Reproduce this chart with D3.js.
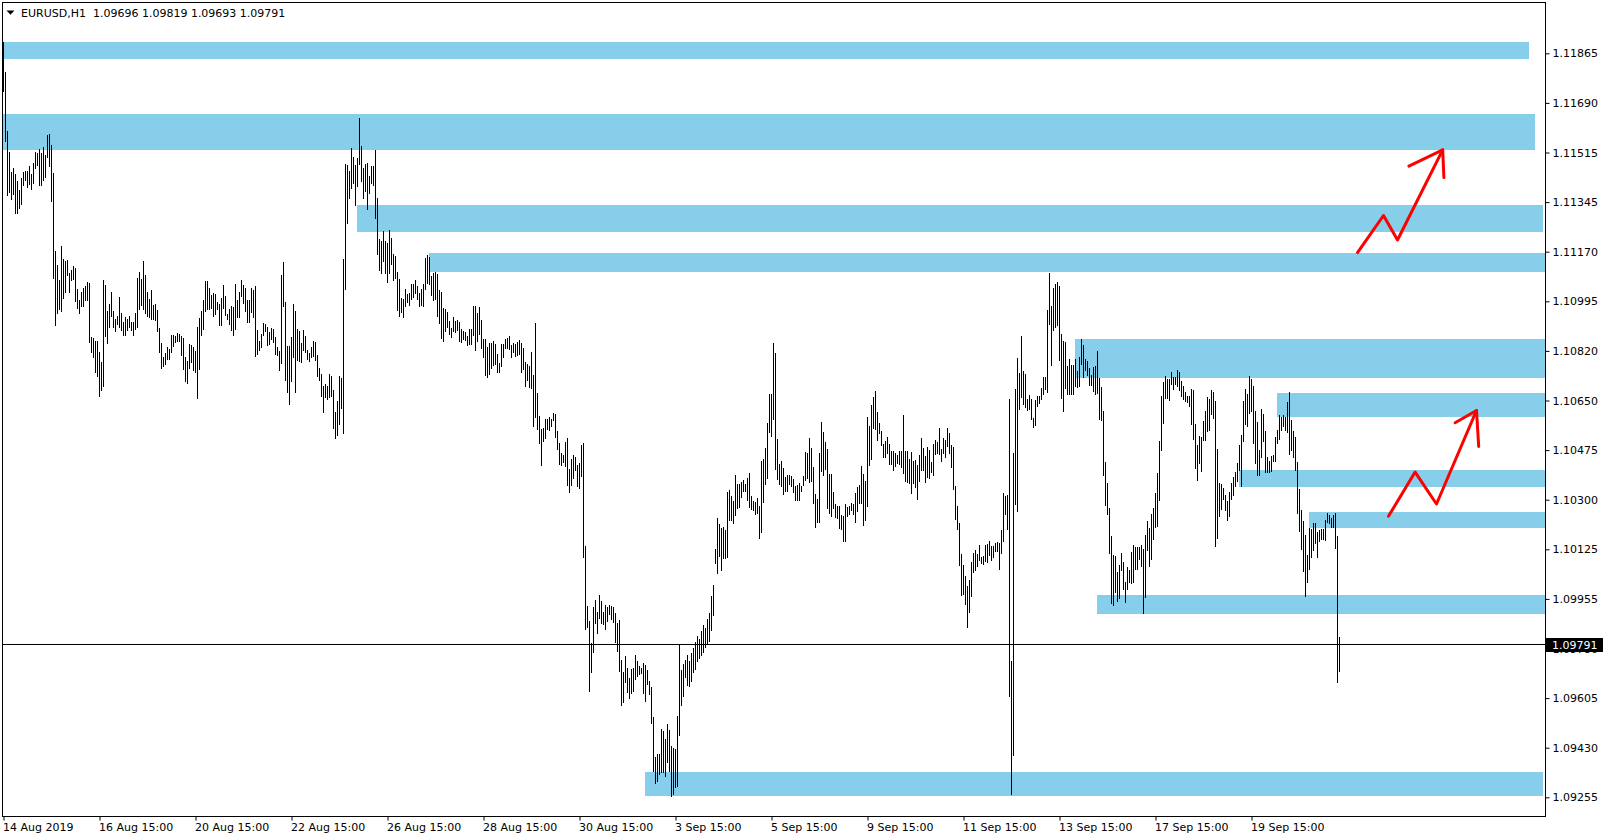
<!DOCTYPE html>
<html><head><meta charset="utf-8">
<script src="https://cdn.jsdelivr.net/npm/d3@7/dist/d3.min.js"></script>
<style>html,body{margin:0;padding:0;background:#fff;overflow:hidden}</style>
</head><body>
<script>
// ---------------- DATA ----------------
const symbolTitle = "EURUSD,H1  1.09696 1.09819 1.09693 1.09791";

// H1 bar highs (bar 0 = 14 Aug 2019 15:00)
const highs = [
1.11905,1.11800,1.11592,1.11519,1.11449,1.11463,1.11442,1.11418,1.11385,1.11428,
1.11449,1.11453,1.11452,1.11470,1.11442,1.11480,1.11519,1.11515,1.11529,1.11515,
1.11536,1.11509,1.11578,1.11582,1.11543,1.11444,1.11171,1.11122,1.11069,1.11189,
1.11143,1.11136,1.11140,1.11095,1.11105,1.11119,1.11112,1.11039,1.10999,1.11027,
1.11041,1.11048,1.11062,1.11059,1.10871,1.10866,1.10857,1.10857,1.10817,1.10782,
1.11069,1.11052,1.10962,1.10985,1.11027,1.10962,1.10934,1.10944,1.11011,1.10955,
1.10922,1.10941,1.10934,1.10943,1.10922,1.10922,1.10955,1.11075,1.11098,1.11072,
1.11137,1.11087,1.11027,1.11004,1.11034,1.10981,1.10985,1.10964,1.10901,1.10850,
1.10798,1.10812,1.10835,1.10826,1.10878,1.10878,1.10873,1.10885,1.10879,1.10873,
1.10866,1.10800,1.10786,1.10846,1.10843,1.10835,1.10821,1.10906,1.10938,1.10962,
1.10999,1.11067,1.11067,1.11043,1.11018,1.11023,1.11022,1.10993,1.10985,1.11005,
1.11052,1.11012,1.10952,1.10969,1.10978,1.10975,1.11055,1.10999,1.11027,1.11069,
1.11052,1.11041,1.10999,1.10999,1.11041,1.11034,1.11048,1.10894,1.10855,1.10880,
1.10918,1.10915,1.10904,1.10887,1.10901,1.10897,1.10869,1.10834,1.10820,1.11087,
1.11132,1.10992,1.10838,1.10838,1.10869,1.10985,1.10960,1.10897,1.10890,1.10848,
1.10894,1.10873,1.10824,1.10813,1.10834,1.10855,1.10852,1.10806,1.10760,1.10739,
1.10697,1.10704,1.10697,1.10739,1.10732,1.10683,1.10606,1.10645,1.10732,1.10725,
1.11143,1.11476,1.11473,1.11452,1.11533,1.11501,1.11473,1.11498,1.11638,1.11540,
1.11462,1.11476,1.11480,1.11434,1.11469,1.11469,1.11526,1.11357,1.11213,1.11206,
1.11241,1.11206,1.11199,1.11245,1.11217,1.11161,1.11154,1.11097,1.11073,1.11006,
1.11003,1.11038,1.11020,1.11024,1.11055,1.11055,1.11069,1.11048,1.11024,1.11038,
1.11055,1.11147,1.11157,1.11150,1.11083,1.11094,1.11097,1.11090,1.11034,1.11027,
1.10971,1.10968,1.10957,1.10925,1.10901,1.10939,1.10925,1.10929,1.10922,1.10898,
1.10891,1.10887,1.10873,1.10898,1.10898,1.10979,1.10979,1.10954,1.10975,1.10930,
1.10863,1.10863,1.10835,1.10849,1.10849,1.10855,1.10845,1.10810,1.10778,1.10845,
1.10845,1.10863,1.10866,1.10873,1.10842,1.10849,1.10845,1.10852,1.10859,1.10849,
1.10831,1.10782,1.10775,1.10768,1.10817,1.10736,1.10919,1.10673,1.10592,1.10547,
1.10550,1.10582,1.10582,1.10589,1.10582,1.10603,1.10600,1.10540,1.10498,1.10462,
1.10455,1.10501,1.10515,1.10406,1.10442,1.10455,1.10448,1.10420,1.10427,1.10490,
1.10498,1.10136,1.09925,1.09873,1.09795,1.09922,1.09946,1.09904,1.09964,1.09943,
1.09904,1.09929,1.09922,1.09929,1.09925,1.09922,1.09901,1.09866,1.09876,1.09736,
1.09694,1.09750,1.09708,1.09673,1.09704,1.09708,1.09753,1.09732,1.09715,1.09708,
1.09725,1.09718,1.09701,1.09662,1.09641,1.09536,1.09395,1.09406,1.09406,1.09494,
1.09487,1.09459,1.09511,1.09490,1.09434,1.09427,1.09424,1.09540,1.09789,1.09701,
1.09722,1.09736,1.09753,1.09732,1.09760,1.09780,1.09800,1.09820,1.09810,1.09840,
1.09860,1.09850,1.09880,1.09900,1.09960,1.10000,1.10125,1.10234,1.10213,1.10199,
1.10203,1.10192,1.10325,1.10332,1.10311,1.10294,1.10385,1.10353,1.10353,1.10360,
1.10367,1.10353,1.10375,1.10392,1.10311,1.10294,1.10290,1.10304,1.10276,1.10434,
1.10441,1.10480,1.10568,1.10669,1.10669,1.10848,1.10813,1.10511,1.10424,1.10434,
1.10410,1.10378,1.10385,1.10385,1.10382,1.10371,1.10346,1.10350,1.10357,1.10346,
1.10382,1.10466,1.10462,1.10515,1.10480,1.10413,1.10318,1.10301,1.10462,1.10571,
1.10536,1.10501,1.10476,1.10389,1.10389,1.10325,1.10283,1.10276,1.10276,1.10245,
1.10241,1.10283,1.10273,1.10276,1.10287,1.10283,1.10322,1.10343,1.10350,1.10417,
1.10389,1.10364,1.10589,1.10557,1.10631,1.10659,1.10680,1.10606,1.10568,1.10539,
1.10494,1.10504,1.10518,1.10494,1.10469,1.10469,1.10462,1.10455,1.10469,1.10469,
1.10596,1.10469,1.10469,1.10441,1.10466,1.10434,1.10438,1.10420,1.10455,1.10517,
1.10480,1.10451,1.10484,1.10473,1.10433,1.10494,1.10510,1.10502,1.10549,1.10476,
1.10517,1.10510,1.10552,1.10532,1.10490,1.10484,1.10346,1.10277,1.10219,1.10110,
1.10069,1.10030,1.09995,1.10017,1.10082,1.10111,1.10122,1.10109,1.10139,1.10098,
1.10103,1.10139,1.10144,1.10153,1.10135,1.10137,1.10146,1.10149,1.10146,1.10192,
1.10322,1.10312,1.10315,1.10652,1.09733,1.10462,1.10689,1.10795,1.10743,1.10872,
1.10751,1.10740,1.10652,1.10665,1.10652,1.10585,1.10648,1.10662,1.10662,1.10690,
1.10729,1.10729,1.10965,1.11096,1.10978,1.11042,1.11057,1.11063,1.11049,1.10880,
1.10855,1.10852,1.10768,1.10793,1.10771,1.10771,1.10793,1.10752,1.10798,1.10862,
1.10841,1.10793,1.10786,1.10760,1.10737,1.10764,1.10768,1.10821,1.10725,1.10693,
1.10610,1.10430,1.10357,1.10270,1.10173,1.10104,1.10103,1.10045,1.10070,1.10111,
1.10080,1.10010,1.10064,1.10052,1.10114,1.10139,1.10134,1.10133,1.10132,1.10139,
1.10126,1.10175,1.10224,1.10199,1.10250,1.10270,1.10322,1.10392,1.10504,1.10662,
1.10711,1.10733,1.10722,1.10722,1.10747,1.10729,1.10729,1.10754,1.10747,1.10715,
1.10697,1.10676,1.10662,1.10662,1.10687,1.10683,1.10564,1.10490,1.10522,1.10518,
1.10575,1.10610,1.10659,1.10652,1.10683,1.10676,1.10645,1.10476,1.10357,1.10353,
1.10339,1.10315,1.10294,1.10325,1.10357,1.10378,1.10396,1.10427,1.10490,1.10525,
1.10645,1.10687,1.10669,1.10733,1.10722,1.10697,1.10610,1.10571,1.10473,1.10617,
1.10599,1.10539,1.10448,1.10434,1.10452,1.10455,1.10518,1.10543,1.10596,1.10589,
1.10596,1.10589,1.10641,1.10676,1.10578,1.10539,1.10518,1.10431,1.10336,1.10262,
1.10224,1.10174,1.10104,1.10199,1.10196,1.10217,1.10217,1.10185,1.10192,1.10196,
1.10196,1.10227,1.10252,1.10245,1.10234,1.10245,1.10252,1.10171,1.09819
];

// H1 bar lows
const lows = [
1.11729,1.11555,1.11366,1.11374,1.11351,1.11369,1.11302,1.11302,1.11319,1.11334,
1.11399,1.11418,1.11391,1.11403,1.11387,1.11408,1.11460,1.11468,1.11401,1.11401,
1.11417,1.11429,1.11497,1.11467,1.11344,1.11072,1.10909,1.10951,1.10964,1.10958,
1.11004,1.11025,1.11085,1.11023,1.11067,1.11069,1.10993,1.10967,1.10951,1.10976,
1.10976,1.10997,1.10997,1.10847,1.10812,1.10795,1.10745,1.10730,1.10660,1.10681,
1.10693,1.10871,1.10844,1.10900,1.10941,1.10903,1.10887,1.10912,1.10902,1.10890,
1.10875,1.10875,1.10892,1.10902,1.10890,1.10875,1.10896,1.10900,1.10964,1.10978,
1.10964,1.10950,1.10941,1.10937,1.10928,1.10929,1.10927,1.10888,1.10812,1.10758,
1.10763,1.10773,1.10789,1.10789,1.10812,1.10833,1.10850,1.10852,1.10851,1.10803,
1.10755,1.10713,1.10706,1.10758,1.10777,1.10751,1.10742,1.10653,1.10755,1.10874,
1.10893,1.10958,1.10964,1.10964,1.10969,1.10940,1.10947,1.10964,1.10910,1.10910,
1.10967,1.10944,1.10931,1.10913,1.10890,1.10873,1.10894,1.10936,1.10936,1.11010,
1.10985,1.10957,1.10918,1.10918,1.10953,1.10936,1.10799,1.10806,1.10820,1.10831,
1.10873,1.10887,1.10838,1.10841,1.10859,1.10848,1.10806,1.10803,1.10750,1.10774,
1.10975,1.10715,1.10673,1.10631,1.10711,1.10796,1.10673,1.10785,1.10781,1.10778,
1.10820,1.10813,1.10788,1.10781,1.10796,1.10799,1.10785,1.10729,1.10715,1.10659,
1.10602,1.10655,1.10648,1.10655,1.10659,1.10546,1.10511,1.10522,1.10560,1.10617,
1.10529,1.11034,1.11266,1.11354,1.11389,1.11406,1.11329,1.11396,1.11473,1.11413,
1.11354,1.11378,1.11315,1.11371,1.11406,1.11399,1.11283,1.11157,1.11101,1.11090,
1.11132,1.11090,1.11059,1.11090,1.11122,1.11066,1.11073,1.10960,1.10939,1.10953,
1.10936,1.10975,1.10989,1.10978,1.10999,1.11006,1.11020,1.10999,1.10975,1.10978,
1.10975,1.11034,1.11055,1.11052,1.11013,1.10996,1.10999,1.10939,1.10915,1.10862,
1.10852,1.10887,1.10901,1.10876,1.10866,1.10887,1.10883,1.10890,1.10852,1.10849,
1.10859,1.10855,1.10838,1.10842,1.10842,1.10873,1.10820,1.10852,1.10877,1.10828,
1.10796,1.10733,1.10726,1.10736,1.10757,1.10768,1.10771,1.10743,1.10743,1.10764,
1.10796,1.10828,1.10828,1.10824,1.10796,1.10813,1.10799,1.10803,1.10806,1.10743,
1.10754,1.10694,1.10715,1.10691,1.10687,1.10554,1.10585,1.10543,1.10494,1.10417,
1.10501,1.10512,1.10543,1.10540,1.10554,1.10575,1.10515,1.10473,1.10420,1.10417,
1.10427,1.10413,1.10346,1.10322,1.10346,1.10371,1.10400,1.10343,1.10336,1.10378,
1.10094,1.09841,1.09848,1.09624,1.09690,1.09761,1.09862,1.09827,1.09880,1.09862,
1.09859,1.09841,1.09869,1.09894,1.09876,1.09866,1.09795,1.09764,1.09694,1.09574,
1.09585,1.09655,1.09620,1.09599,1.09617,1.09624,1.09666,1.09676,1.09683,1.09687,
1.09617,1.09588,1.09648,1.09613,1.09511,1.09343,1.09301,1.09308,1.09332,1.09339,
1.09339,1.09325,1.09374,1.09343,1.09255,1.09262,1.09287,1.09290,1.09470,1.09574,
1.09606,1.09673,1.09645,1.09641,1.09660,1.09690,1.09700,1.09730,1.09740,1.09750,
1.09760,1.09780,1.09790,1.09800,1.09840,1.09890,1.10075,1.10040,1.10097,1.10050,
1.10090,1.10090,1.10094,1.10224,1.10224,1.10213,1.10241,1.10266,1.10269,1.10304,
1.10325,1.10325,1.10294,1.10269,1.10262,1.10259,1.10245,1.10248,1.10160,1.10181,
1.10287,1.10350,1.10371,1.10532,1.10518,1.10578,1.10403,1.10367,1.10350,1.10343,
1.10315,1.10325,1.10325,1.10350,1.10343,1.10322,1.10294,1.10294,1.10294,1.10325,
1.10346,1.10364,1.10371,1.10357,1.10360,1.10283,1.10199,1.10217,1.10217,1.10396,
1.10382,1.10403,1.10266,1.10248,1.10238,1.10266,1.10234,1.10231,1.10196,1.10192,
1.10150,1.10150,1.10238,1.10245,1.10259,1.10245,1.10217,1.10255,1.10283,1.10285,
1.10206,1.10224,1.10273,1.10417,1.10438,1.10547,1.10543,1.10504,1.10529,1.10487,
1.10445,1.10445,1.10459,1.10420,1.10420,1.10399,1.10413,1.10424,1.10420,1.10410,
1.10389,1.10360,1.10357,1.10353,1.10318,1.10353,1.10339,1.10297,1.10362,1.10400,
1.10400,1.10358,1.10376,1.10372,1.10394,1.10383,1.10456,1.10459,1.10456,1.10430,
1.10461,1.10446,1.10485,1.10459,1.10410,1.10334,1.10228,1.10192,1.10066,1.09961,
1.09965,1.09930,1.09849,1.09902,1.09958,1.10041,1.10048,1.10063,1.10085,1.10075,
1.10070,1.10079,1.10076,1.10101,1.10085,1.10093,1.10115,1.10115,1.10053,1.10109,
1.10151,1.10245,1.10192,1.09607,1.09264,1.09399,1.10282,1.10256,1.10613,1.10656,
1.10631,1.10620,1.10610,1.10612,1.10577,1.10551,1.10558,1.10624,1.10636,1.10649,
1.10665,1.10685,1.10673,1.10913,1.10769,1.10891,1.10901,1.10909,1.10786,1.10653,
1.10608,1.10687,1.10668,1.10666,1.10667,1.10667,1.10693,1.10690,1.10693,1.10771,
1.10727,1.10749,1.10733,1.10698,1.10699,1.10676,1.10668,1.10671,1.10578,1.10575,
1.10382,1.10277,1.10245,1.10109,1.09933,1.09926,1.09971,1.09941,1.09952,1.10049,
1.09983,1.09936,1.09981,1.10007,1.10005,1.10007,1.10054,1.10054,1.10088,1.10062,
1.09898,1.09955,1.10118,1.10064,1.10086,1.10158,1.10199,1.10203,1.10294,1.10469,
1.10564,1.10652,1.10652,1.10645,1.10701,1.10683,1.10701,1.10694,1.10680,1.10659,
1.10648,1.10641,1.10638,1.10624,1.10561,1.10508,1.10406,1.10364,1.10424,1.10396,
1.10504,1.10504,1.10536,1.10539,1.10596,1.10582,1.10132,1.10160,1.10238,1.10262,
1.10297,1.10259,1.10224,1.10238,1.10297,1.10311,1.10343,1.10360,1.10399,1.10343,
1.10501,1.10561,1.10554,1.10600,1.10606,1.10494,1.10424,1.10382,1.10382,1.10445,
1.10501,1.10392,1.10392,1.10392,1.10396,1.10431,1.10431,1.10494,1.10508,1.10539,
1.10554,1.10539,1.10532,1.10455,1.10469,1.10445,1.10399,1.10248,1.10185,1.10122,
1.10045,1.09957,1.10006,1.10052,1.10094,1.10118,1.10143,1.10094,1.10150,1.10157,
1.10157,1.10153,1.10217,1.10213,1.10199,1.10199,1.10125,1.09655,1.09693
];

const dateLabels = ["14 Aug 2019","16 Aug 15:00","20 Aug 15:00","22 Aug 15:00","26 Aug 15:00",
  "28 Aug 15:00","30 Aug 15:00","3 Sep 15:00","5 Sep 15:00","9 Sep 15:00","11 Sep 15:00",
  "13 Sep 15:00","17 Sep 15:00","19 Sep 15:00"];
const dateLabelBars = [0,48,96,144,192,240,288,336,384,432,480,528,576,624];

const priceLabels = ["1.11865","1.11690","1.11515","1.11345","1.11170","1.10995","1.10820",
  "1.10650","1.10475","1.10300","1.10125","1.09955","1.09780","1.09605","1.09430","1.09255"];
const priceTop = 1.11865, priceBottom = 1.09255;
const currentPrice = 1.09791;
const currentPriceLabel = "1.09791";

// supply / demand zones (price band, start/end in bar units)
const zoneTops    = [1.11905,1.11652,1.11333,1.11164,1.10863,1.10673,1.10403,1.10256,1.09964,1.09343];
const zoneBottoms = [1.11845,1.11526,1.11238,1.11098,1.10726,1.10589,1.10343,1.10199,1.09898,1.09259];
const zoneStarts  = [-1,-1,176.75,212.75,535.75,636.75,617.9,652.75,546.75,320.75];
const zoneEnds    = [762.75,765.75,769.75,780,780,780,780,780,780,769.75];

// hand-drawn red arrows ([bar, price])
const arrowUpperPath = [[677,1.11166],[690,1.11296],[697,1.11210],[719.6,1.11526]];
const arrowUpperHead = [[702.7,1.11469],[719.6,1.11526],[720.2,1.11429]];
const arrowLowerPath = [[692.5,1.10241],[705.8,1.10396],[716.5,1.10284],[736.5,1.10612]];
const arrowLowerHead = [[725.8,1.10569],[736.5,1.10612],[737.6,1.10486]];

// ---------------- DRAW ----------------
const W = 1609, H = 840;
const FONT = "'DejaVu Sans', Tahoma, sans-serif";
const svg = d3.select("body").append("svg")
  .attr("width", W).attr("height", H).style("display","block").style("background","#fff");

const x = d3.scaleLinear().domain([0, highs.length - 1]).range([3.5, 3.5 + 2 * (highs.length - 1)]);
const y = d3.scaleLinear().domain([priceBottom, priceTop]).range([797.3, 53.3]);

svg.append("defs").append("clipPath").attr("id","plotClip")
  .append("rect").attr("x",3).attr("y",3).attr("width",1542).attr("height",813);

const plot = svg.append("g").attr("clip-path","url(#plotClip)");

// zones
plot.append("g").selectAll("rect").data(d3.range(zoneTops.length)).join("rect")
  .attr("x", i => Math.round(x(zoneStarts[i])))
  .attr("width", i => Math.round(x(zoneEnds[i])) - Math.round(x(zoneStarts[i])))
  .attr("y", i => Math.round(y(zoneTops[i])))
  .attr("height", i => Math.round(y(zoneBottoms[i])) - Math.round(y(zoneTops[i])))
  .attr("fill", "#87CEEB");

// current price line
const cpY = Math.floor(y(currentPrice)) + 0.5;
plot.append("line").attr("x1",3).attr("x2",1545).attr("y1",cpY).attr("y2",cpY)
  .attr("stroke","#000").attr("stroke-width",1).attr("shape-rendering","crispEdges");

// bars
plot.append("g").selectAll("line").data(highs).join("line")
  .attr("x1", (d,i) => x(i)).attr("x2", (d,i) => x(i))
  .attr("y1", d => Math.round(y(d)))
  .attr("y2", (d,i) => Math.max(Math.round(y(lows[i])), Math.round(y(d)) + 1))
  .attr("stroke","#000").attr("stroke-width",1).attr("shape-rendering","crispEdges");

// red arrows
const line = d3.line().x(d => x(d[0])).y(d => y(d[1]));
[arrowUpperPath, arrowUpperHead, arrowLowerPath, arrowLowerHead].forEach(pts => {
  plot.append("path").attr("d", line(pts)).attr("fill","none")
    .attr("stroke","#FF0000").attr("stroke-width",3)
    .attr("stroke-linejoin","round").attr("stroke-linecap","round");
});

// frame
svg.append("rect").attr("x",2.5).attr("y",2.5).attr("width",1543).attr("height",814)
  .attr("fill","none").attr("stroke","#000").attr("stroke-width",1).attr("shape-rendering","crispEdges");

// price axis (right)
const yTickVals = d3.range(priceLabels.length)
  .map(k => priceTop - k * (priceTop - priceBottom) / (priceLabels.length - 1));
const yAxisG = svg.append("g").attr("transform","translate(1545.5,0)")
  .call(d3.axisRight(y).tickValues(yTickVals).tickFormat((d,i) => priceLabels[i]).tickSize(4).tickPadding(3))
  .attr("font-family", FONT).attr("font-size", 11);
yAxisG.select(".domain").remove();
yAxisG.selectAll("text").attr("fill","#000");
yAxisG.selectAll("line").attr("stroke","#000");

// time axis (bottom)
const xAxisG = svg.append("g").attr("transform","translate(0,816.5)")
  .call(d3.axisBottom(x).tickValues(dateLabelBars).tickFormat((d,i) => dateLabels[i]).tickSize(4).tickPadding(3))
  .attr("font-family", FONT).attr("font-size", 11);
xAxisG.select(".domain").remove();
xAxisG.selectAll("text").attr("text-anchor","start").attr("x",-1).attr("fill","#000");
xAxisG.selectAll("line").attr("stroke","#000");

// current price tag
svg.append("rect").attr("x",1546).attr("y",Math.round(y(currentPrice)) - 7).attr("width",57).attr("height",14).attr("fill","#000");
svg.append("text").attr("x",1552).attr("y",y(currentPrice) + 4)
  .attr("font-family", FONT).attr("font-size",11).attr("fill","#fff").text(currentPriceLabel);

// title
svg.append("path").attr("d","M6.5,10.5 L14.5,10.5 L10.5,14.8 Z").attr("fill","#000");
svg.append("text").attr("x",21).attr("y",16.5).attr("font-family",FONT).attr("font-size",11)
  .attr("fill","#000").style("white-space","pre").text(symbolTitle);
</script>
</body></html>
